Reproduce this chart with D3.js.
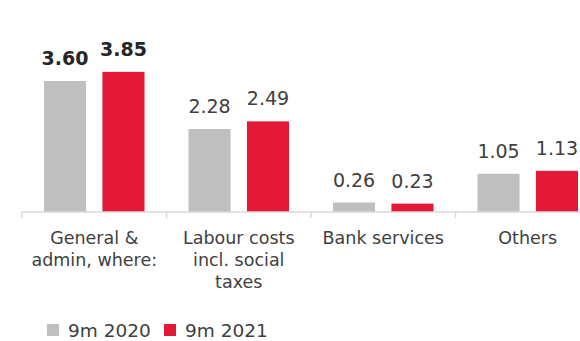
<!DOCTYPE html>
<html>
<head>
<meta charset="utf-8">
<script src="https://cdn.jsdelivr.net/npm/d3@7"></script>
<style>
  html, body { margin: 0; padding: 0; background: #fff; }
  svg { display: block; }
  text { font-family: "DejaVu Sans", sans-serif; fill: #404040; }
</style>
</head>
<body>
<svg id="chart" width="580" height="341"></svg>
<script>
// Operating expenses by category, 9m 2020 vs 9m 2021
const categories = ["General & admin, where:", "Labour costs incl. social taxes", "Bank services", "Others"];
const categoryLines = [
  ["General &", "admin, where:"],
  ["Labour costs", "incl. social", "taxes"],
  ["Bank services"],
  ["Others"]
];
const seriesNames = ["9m 2020", "9m 2021"];
const values2020 = [3.60, 2.28, 0.26, 1.05];
const values2021 = [3.85, 2.49, 0.23, 1.13];
const boldCategory = "General & admin, where:";
const colors = ["#bfbfbf", "#e31937"];

const svg = d3.select("#chart");

const baseY = 212;
const x0 = d3.scaleBand().domain(categories).range([22, 600]).padding(0);
const x1 = d3.scaleBand().domain(seriesNames)
  .range([22, x0.bandwidth() - 22]).paddingInner(0.28).paddingOuter(0);
const y = d3.scaleLinear().domain([0, 4]).range([baseY, baseY - 145.6]);
const color = d3.scaleOrdinal().domain(seriesNames).range(colors);

const rows = categories.map((c, i) => ({
  cat: c,
  vals: [
    { s: seriesNames[0], v: values2020[i] },
    { s: seriesNames[1], v: values2021[i] }
  ]
}));

// bars
const groups = svg.selectAll("g.cat").data(rows).join("g")
  .attr("class", "cat")
  .attr("transform", d => `translate(${x0(d.cat)},0)`);

groups.selectAll("rect").data(d => d.vals).join("rect")
  .attr("x", d => x1(d.s))
  .attr("width", x1.bandwidth())
  .attr("y", d => y(d.v))
  .attr("height", d => baseY - y(d.v))
  .attr("fill", d => color(d.s));

// value labels
groups.each(function(row) {
  const bold = row.cat === boldCategory;
  d3.select(this).selectAll("text.val").data(row.vals).join("text")
    .attr("class", "val")
    .attr("x", d => x1(d.s) + x1.bandwidth() / 2)
    .attr("y", d => y(d.v) - 16)
    .attr("text-anchor", "middle")
    .style("font-size", "19px")
    .style("font-weight", bold ? "bold" : "normal")
    .style("fill", bold ? "#262626" : "#404040")
    .text(d => d3.format(".2f")(d.v));
});

// category axis: baseline with boundary ticks
const axis = svg.append("g").attr("class", "axis");
axis.append("line")
  .attr("x1", x0.range()[0]).attr("x2", x0.range()[1])
  .attr("y1", baseY).attr("y2", baseY)
  .attr("stroke", "#d9d9d9").attr("stroke-width", 1.5);
const bounds = categories.map(c => x0(c)).concat([x0.range()[1]]);
axis.selectAll("line.tick").data(bounds).join("line")
  .attr("class", "tick")
  .attr("x1", d => d).attr("x2", d => d)
  .attr("y1", baseY).attr("y2", baseY + 6)
  .attr("stroke", "#d9d9d9").attr("stroke-width", 1.5);

// category labels
categories.forEach((c, i) => {
  const t = svg.append("text")
    .attr("x", x0(c) + x0.bandwidth() / 2)
    .attr("y", 244)
    .attr("text-anchor", "middle")
    .style("font-size", "17.5px");
  categoryLines[i].forEach((line, j) => {
    t.append("tspan")
      .attr("x", x0(c) + x0.bandwidth() / 2)
      .attr("dy", j === 0 ? 0 : 22)
      .text(line);
  });
});

// legend
const legendX = [47, 164];
const legend = svg.selectAll("g.legend").data(seriesNames).join("g")
  .attr("class", "legend")
  .attr("transform", (d, i) => `translate(${legendX[i]},324)`);
legend.append("rect")
  .attr("width", 12).attr("height", 12)
  .attr("fill", d => color(d));
legend.append("text")
  .attr("x", 21).attr("y", 12.5)
  .style("font-size", "18.5px")
  .text(d => d);
</script>
</body>
</html>
